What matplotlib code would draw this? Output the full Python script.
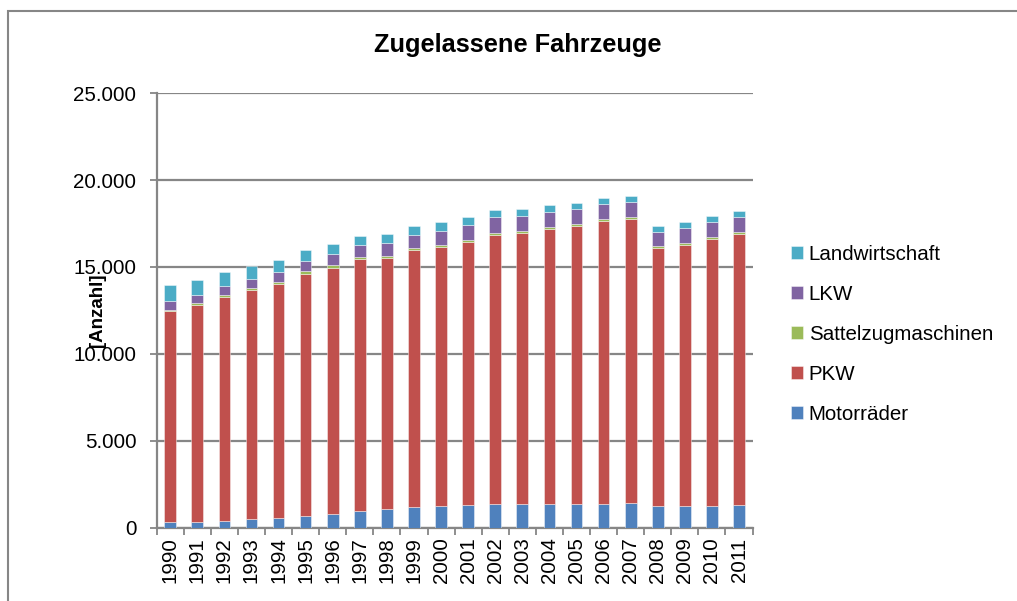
import matplotlib
matplotlib.use("Agg")
import matplotlib.pyplot as plt
import numpy as np
from matplotlib.patches import Rectangle
from matplotlib.ticker import FuncFormatter

plt.rcParams['font.family'] = ['Liberation Sans', 'DejaVu Sans']

# Daten
jahre = [str(j) for j in range(1990, 2012)]
motorraeder = [320, 330, 385, 500, 575, 670, 805, 940, 1055, 1210, 1245,
               1300, 1360, 1360, 1380, 1380, 1380, 1400, 1245, 1265, 1265, 1300]
pkw = [12120, 12460, 12870, 13170, 13440, 13930, 14160, 14500, 14460, 14770, 14930,
       15140, 15490, 15600, 15800, 15970, 16260, 16350, 14830, 15000, 15330, 15570]
sattelzug = [100, 120, 115, 130, 116, 140, 130, 116, 135, 100, 115,
             116, 116, 130, 115, 115, 100, 115, 115, 140, 115, 130]
lkw = [500, 500, 537, 536, 598, 594, 652, 709, 729, 767, 785,
       865, 888, 842, 883, 883, 901, 883, 848, 825, 883, 883]
landwirtschaft = [920, 850, 790, 733, 654, 635, 577, 543, 502, 502, 502,
                  427, 421, 427, 387, 346, 311, 312, 306, 329, 329, 329]

serien = [
    ("Motorräder", motorraeder, "#4F81BD"),
    ("PKW", pkw, "#C0504D"),
    ("Sattelzugmaschinen", sattelzug, "#9BBB59"),
    ("LKW", lkw, "#8064A2"),
    ("Landwirtschaft", landwirtschaft, "#4BACC6"),
]

fig = plt.figure(figsize=(10.17, 6.01), dpi=100)
ax = fig.add_axes([0.154, 0.122, 0.586, 0.723])

x = np.arange(len(jahre))
unten = np.zeros(len(jahre))
for name, werte, farbe in serien:
    ax.bar(x, werte, 0.43, bottom=unten, color=farbe, label=name,
           edgecolor=(1, 1, 1, 0.5), linewidth=0.6, zorder=3)
    unten += np.array(werte)

grau = "#868686"
ax.set_ylim(0, 25000)
ax.set_xlim(-0.5, len(jahre) - 0.5)
ax.set_yticks(range(0, 25001, 5000))
ax.yaxis.set_major_formatter(FuncFormatter(lambda v, p: f"{int(v):,}".replace(",", ".")))
ax.grid(axis='y', color=grau, linewidth=1.6, zorder=0)

ax.set_xticks(x)
ax.set_xticklabels(jahre, rotation=90, fontsize=14.8)
ax.set_xticks(np.arange(-0.5, len(jahre)), minor=True)
ax.tick_params(axis='x', which='major', length=0, pad=7)
ax.tick_params(axis='x', which='minor', length=5, color=grau, width=1.3)
ax.tick_params(axis='y', length=5, color=grau, width=1.3, labelsize=14.8, pad=9.5)

for s in ['top', 'right']:
    ax.spines[s].set_visible(False)
for s in ['left', 'bottom']:
    ax.spines[s].set_color(grau)
    ax.spines[s].set_linewidth(1.6)

# Achsentitel wie im Original zwischen den Skalenbeschriftungen
ax.set_ylabel("[Anzahl]", fontsize=13.5, fontweight='bold')
ax.yaxis.set_label_coords(-0.100, 0.501)
ax.yaxis.label.set_va('center')

fig.text(0.509, 0.925, "Zugelassene Fahrzeuge", ha='center', va='center',
         fontsize=18.3, fontweight='bold')

handles, labels = ax.get_legend_handles_labels()
ax.legend(handles[::-1], labels[::-1], loc='center left',
          bbox_to_anchor=(0.768, 0.444), bbox_transform=fig.transFigure,
          frameon=False, fontsize=14.8, handlelength=0.55, handleheight=0.55,
          handletextpad=0.3, labelspacing=1.02, borderpad=0)

# Rahmen des Diagramms
fig.patches.append(Rectangle((8 / 1017, -0.2), 1.2, 0.982 + 0.2,
                             transform=fig.transFigure, fill=False,
                             edgecolor=grau, linewidth=1.5))

fig.savefig("out.png", dpi=100)
